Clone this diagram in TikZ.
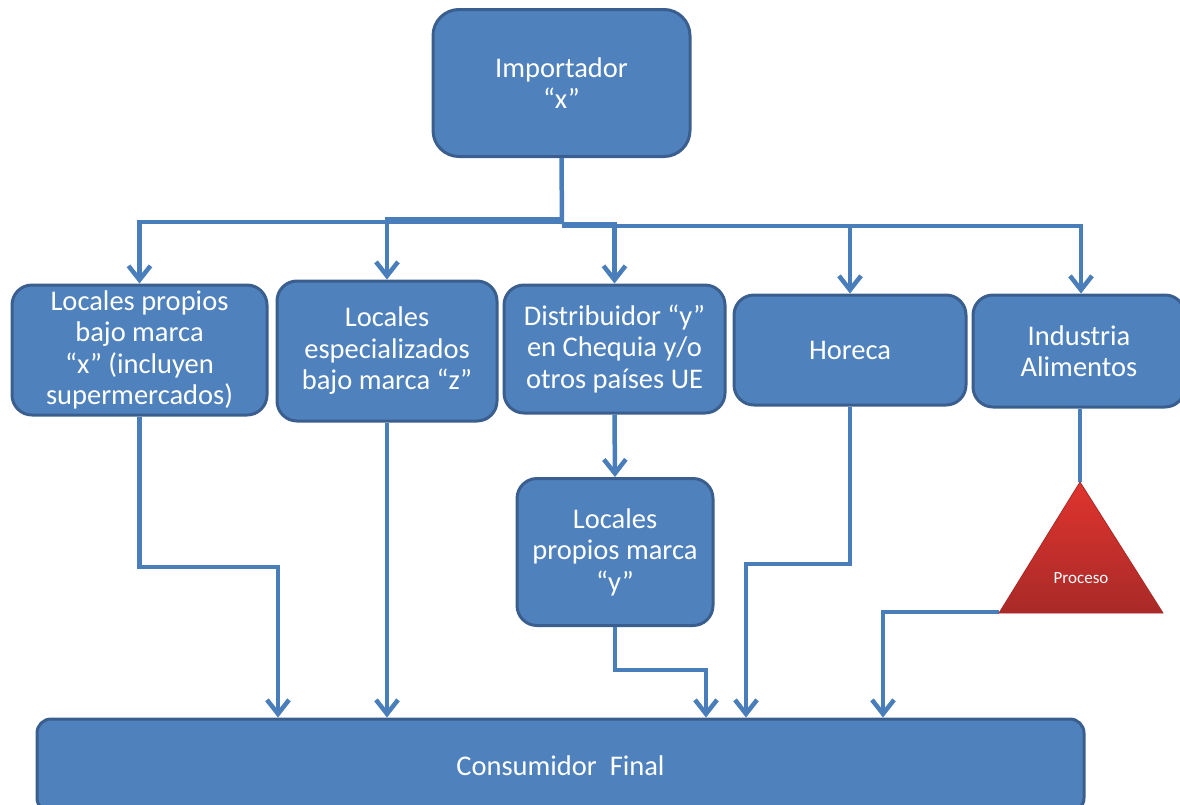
\documentclass[tikz,border=0pt]{standalone}
\usepackage{fontspec}
\setmainfont{Carlito}
\usetikzlibrary{arrows.meta,calc}
\definecolor{boxfill}{HTML}{4F81BD}
\definecolor{boxline}{HTML}{3A5F8E}
\definecolor{conncol}{HTML}{4A7EBB}
\definecolor{trired}{HTML}{E0342E}
\definecolor{tridark}{HTML}{A82A28}
\begin{document}
\begin{tikzpicture}[x=1pt,y=-1pt,
  bluebox/.style={draw=boxline, line width=3pt, fill=boxfill, rounded corners=20pt,
    text=white, align=center, inner sep=2pt,
    font=\fontsize{28.5}{31.5}\selectfont},
  conn/.style={draw=conncol, line width=4.5pt},
  arr/.style={conn, -{Straight Barb[length=14pt,width=22pt]}}]
\useasboundingbox (0,0) rectangle (1180,804);
% nodes
\node[bluebox, rounded corners=26pt, minimum width=257pt, minimum height=147pt] (imp) at (561.5,83) {Importador\\“x”};
\node[bluebox, minimum width=255pt, minimum height=130pt] (b1) at (139.5,350) {Locales propios\\bajo marca\\“x” (incluyen\\supermercados)};
\node[bluebox, minimum width=220pt, minimum height=140pt] (b2) at (387,351) {Locales\\especializados\\bajo marca “z”};
\node[bluebox, minimum width=221pt, minimum height=128pt] (b3) at (614.5,349) {Distribuidor “y”\\en Chequia y/o\\otros países UE};
\node[bluebox, minimum width=232pt, minimum height=110pt] (b4) at (850,350) {Horeca};
\node[bluebox, minimum width=212pt, minimum height=112pt] (b5) at (1079,351) {Industria\\Alimentos};
\node[bluebox, minimum width=196pt, minimum height=147pt] (b6) at (615,552) {Locales\\propios marca\\“y”};
\node[bluebox, rounded corners=14pt, minimum width=1047pt, minimum height=93pt] (cons) at (560.5,765.5) {Consumidor~~Final};
% triangle corners
\coordinate (tA) at (1080,482);
\coordinate (tL) at (999,613);
\coordinate (tR) at (1163,613);
% bus
\draw[conn] (imp.south) -- (562,224);
\draw[arr] (562,222) -| (b1.north);
\draw[arr] (562,219) -| (b2.north);
\draw[arr] (562,224) -| (b3.north);
\draw[arr] (562,226) -| (b4.north);
\draw[arr] (562,226) -| (b5.north -| 1081,0);
% lower connectors
\draw[arr] (b1.south) |- (278,567) -- (cons.north -| 278,0);
\draw[arr] (b2.south) -- (cons.north -| b2.south);
\draw[arr] (b3.south) -- (b6.north);
\draw[arr] (b6.south) |- (706,670) -- (cons.north -| 706,0);
\draw[arr] (b4.south) |- (746,564) -- (cons.north -| 746,0);
\draw[conn] (b5.south -| tA) -- (tA);
\draw[arr] (tL) ++(0,-1) -| (cons.north -| 883,0);
% triangle
\path[top color=trired, bottom color=tridark, draw=tridark, line width=0.8pt] (tA) -- (tR) -- (tL) -- cycle;
\node[text=white, font=\fontsize{17}{20}\selectfont] (proc) at (1081,578) {Proceso};
\end{tikzpicture}
\end{document}
